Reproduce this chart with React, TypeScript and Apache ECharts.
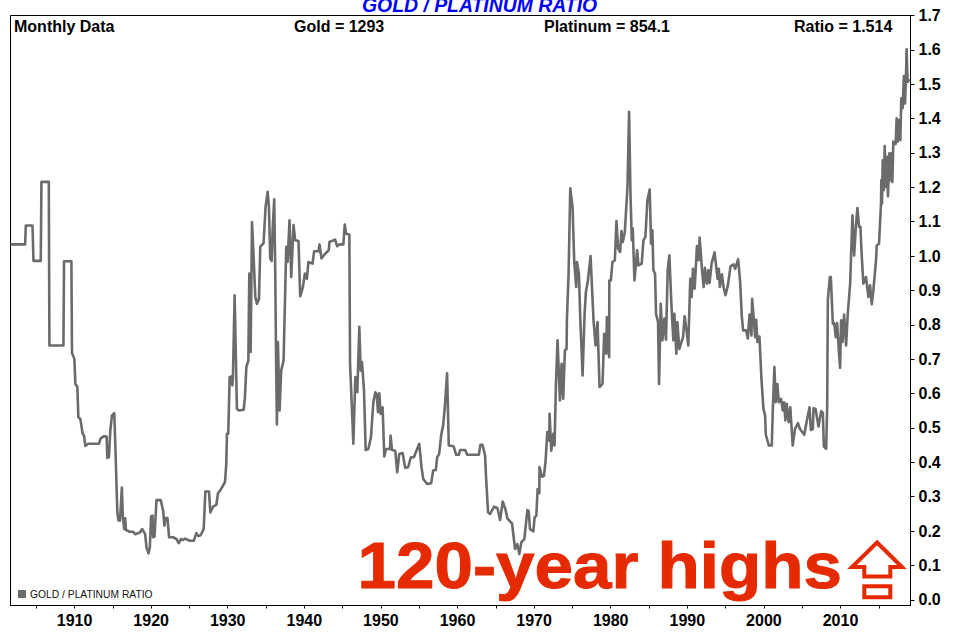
import React, { useEffect, useRef } from "react";
import * as echarts from "echarts";

const SERIES_NAME = "GOLD / PLATINUM RATIO";
const HEADER_LABELS = ["Monthly Data", "Gold = 1293", "Platinum = 854.1", "Ratio = 1.514"];
const ANNOTATION = "120-year highs";

const xTicks = [1905, 1910, 1915, 1920, 1925, 1930, 1935, 1940, 1945, 1950, 1955, 1960, 1965, 1970, 1975, 1980, 1985, 1990, 1995, 2000, 2005, 2010, 2015];
const xLabels = [1910, 1920, 1930, 1940, 1950, 1960, 1970, 1980, 1990, 2000, 2010];
const yTicks = [0, 0.1, 0.2, 0.3, 0.4, 0.5, 0.6, 0.7, 0.8, 0.9, 1.0, 1.1, 1.2, 1.3, 1.4, 1.5, 1.6, 1.7];

const yearsEarly = [1901.64,1903.55,1903.64,1904.51,1904.64,1905.59,1905.68,1906.64,1906.72,1908.55,1908.63,1909.59,1909.67,1909.98,1910.11,1910.37,1910.5,1910.76,1911.06,1911.24,1911.41,1911.8,1913.19,1913.41,1913.84,1914.19,1914.28,1914.49,1914.67,1914.88,1915.19,1915.4,1915.58,1915.71,1915.92,1916.01,1916.18,1916.31,1916.49,1916.62,1916.71,1917.23,1917.66,1917.92,1918.53,1918.83,1919.22,1919.4,1919.66,1919.83,1920.0,1920.18,1920.26,1920.44,1920.7,1921.26,1921.57,1921.74,1921.87,1922.13,1922.35,1922.87,1923.3,1923.6,1923.91,1924.17,1924.43,1925.04,1925.56,1925.91,1926.17,1926.47,1926.86,1927.08,1927.56,1927.73,1928.08,1928.51,1928.73,1929.12,1929.64,1929.81,1929.9,1930.07,1930.25,1930.46,1930.6,1930.68,1930.9,1931.2,1931.46];
const ratiosEarly = [1.034,1.034,1.089,1.089,0.986,0.986,1.216,1.216,0.74,0.74,0.985,0.985,0.718,0.701,0.628,0.619,0.531,0.526,0.483,0.478,0.448,0.454,0.454,0.47,0.476,0.475,0.413,0.415,0.492,0.536,0.543,0.395,0.259,0.232,0.23,0.259,0.327,0.24,0.206,0.237,0.203,0.198,0.198,0.191,0.196,0.206,0.191,0.152,0.135,0.152,0.243,0.245,0.182,0.184,0.29,0.29,0.259,0.216,0.238,0.238,0.182,0.182,0.177,0.165,0.177,0.174,0.178,0.172,0.172,0.194,0.186,0.188,0.206,0.315,0.315,0.254,0.271,0.276,0.31,0.322,0.342,0.395,0.483,0.483,0.648,0.65,0.624,0.648,0.886,0.556,0.551];

const yearsInterwar = [1932.08,1932.25,1932.43,1932.69,1932.82,1932.99,1933.17,1933.38,1933.6,1933.82,1934.08,1934.25,1934.68,1934.94,1935.21,1935.38,1935.55,1935.73,1935.86,1936.07,1936.2,1936.33,1936.42,1936.55,1936.77,1936.98,1937.29,1937.64,1937.81,1938.07,1938.29,1938.59,1938.81,1939.24,1939.46,1939.81,1940.07,1940.33,1940.54,1941.07,1941.28,1941.85,1941.98,1942.24,1942.71,1943.19,1943.28,1944.02,1944.28,1944.58,1945.1,1945.28,1945.45,1945.88,1945.97,1946.19,1946.4,1946.66,1946.92,1947.18,1947.36,1947.53,1947.79,1948.01,1948.36,1948.7,1949.01,1949.27,1949.44,1949.62,1949.79,1949.96,1950.22,1950.44,1950.66,1951.18,1951.26,1951.44,1951.87,1952.13,1952.39,1952.83,1953.17,1953.56,1953.91,1954.3,1955.0,1955.3,1955.52,1956.04,1956.56,1956.82,1957.17,1957.34,1957.6,1957.86,1958.12,1958.34,1958.64,1958.86];
const ratiosInterwar = [0.553,0.59,0.677,0.696,0.949,0.721,1.099,0.997,0.881,0.861,0.876,1.027,1.038,1.143,1.187,1.143,0.993,0.986,1.075,1.165,0.959,0.667,0.51,0.75,0.551,0.667,0.696,1.027,0.983,1.104,0.939,1.09,1.046,1.044,0.883,0.91,0.949,0.934,0.983,0.978,1.014,1.014,1.034,0.993,1.007,1.017,1.041,1.048,1.029,1.034,1.034,1.092,1.065,1.063,0.687,0.57,0.454,0.648,0.604,0.794,0.667,0.692,0.609,0.436,0.439,0.473,0.575,0.604,0.599,0.546,0.601,0.541,0.56,0.417,0.439,0.439,0.478,0.436,0.434,0.371,0.424,0.427,0.384,0.386,0.415,0.415,0.454,0.386,0.352,0.337,0.339,0.376,0.378,0.415,0.424,0.478,0.507,0.56,0.659,0.449];

const yearsSixties = [1959.48,1959.83,1960.17,1960.35,1961.0,1961.26,1962.08,1962.78,1963.0,1963.26,1963.6,1963.73,1963.99,1964.25,1964.78,1965.21,1965.56,1965.9,1966.25,1966.51,1967.12,1967.51,1967.81,1968.07,1968.33,1968.73,1969.12,1969.29,1969.46,1969.9,1970.07,1970.29,1970.46,1970.68,1970.7,1971.03,1971.29,1971.5,1971.72,1971.98,1972.02,1972.24,1972.5,1972.67,1972.85,1973.06,1973.37,1973.59,1973.8,1974.02,1974.24,1974.28,1974.5,1974.72];
const ratiosSixties = [0.447,0.422,0.422,0.436,0.436,0.422,0.422,0.422,0.451,0.451,0.42,0.356,0.254,0.25,0.271,0.267,0.232,0.286,0.264,0.237,0.222,0.148,0.162,0.133,0.167,0.177,0.261,0.259,0.206,0.199,0.24,0.245,0.322,0.31,0.386,0.358,0.361,0.405,0.488,0.463,0.541,0.434,0.483,0.449,0.628,0.755,0.58,0.687,0.585,0.726,0.73,0.813,0.949,1.197];

const yearsSeventies = [1975.02,1975.24,1975.5,1975.59,1975.85,1976.02,1976.33,1976.59,1976.76,1977.02,1977.37,1977.76,1978.02,1978.28,1978.54,1978.93,1979.15,1979.41,1979.5,1979.8,1979.82,1980.02,1980.23,1980.54,1980.75,1980.97,1981.23,1981.4,1981.58,1981.84,1982.01,1982.19,1982.4,1982.58,1982.75,1982.88,1983.1,1983.45,1983.62,1984.05,1984.27,1984.53,1984.79,1985.09,1985.27,1985.44,1985.57,1985.79,1985.92,1986.18,1986.31,1986.53,1986.75,1987.0,1987.22,1987.44,1987.66,1987.92,1988.18,1988.31,1988.57,1988.7,1988.96];
const ratiosSeventies = [1.143,0.983,0.91,0.983,0.949,0.823,0.653,0.832,0.895,0.929,1.0,0.813,0.74,0.808,0.619,0.628,0.774,0.716,0.823,0.706,0.929,0.929,0.983,0.988,1.102,1.022,1.012,1.073,1.041,1.07,1.133,1.201,1.42,1.182,1.046,1.08,0.929,1.017,0.973,0.978,1.046,1.056,1.163,1.194,1.036,1.075,0.959,0.949,0.832,0.808,0.628,0.861,0.755,0.818,0.757,0.959,1.002,0.861,0.755,0.832,0.716,0.808,0.73];

const yearsRecent = [1989.44,1989.65,1989.87,1990.13,1990.39,1990.57,1990.74,1990.96,1991.26,1991.48,1991.61,1991.91,1992.13,1992.3,1992.56,1992.74,1992.91,1993.17,1993.56,1993.95,1994.12,1994.25,1994.52,1994.73,1994.99,1995.3,1995.64,1996.03,1996.25,1996.64,1996.9,1997.12,1997.29,1997.68,1997.9,1998.12,1998.38,1998.46,1998.64,1998.86,1998.99,1999.16,1999.42,1999.68,1999.94,2000.16,2000.25,2000.64,2001.03,2001.16,2001.37,2001.55,2001.76,2001.94,2002.24,2002.46,2002.63,2002.81,2002.98,2003.24,2003.45,2003.76,2004.06,2004.45,2004.71,2005.27,2005.61,2005.96,2006.13,2006.39,2006.48,2006.74,2007.13,2007.48,2007.7,2007.83,2008.13,2008.26,2008.35,2008.61,2008.74,2009.0,2009.17,2009.39,2009.56,2009.78,2009.95,2010.08,2010.26,2010.47,2010.73,2010.95,2011.26,2011.56,2011.78,2012.04,2012.21,2012.43,2012.6,2012.78,2012.99,2013.34,2013.64,2013.86,2014.08,2014.29,2014.64,2014.73,2015.03,2015.29,2015.33,2015.42,2015.51,2015.64,2015.77,2015.94,2016.07,2016.2,2016.38,2016.51,2016.64,2016.77,2016.9,2017.2,2017.33,2017.46,2017.64,2017.81,2017.94,2018.11,2018.28,2018.42,2018.55,2018.63,2018.76,2019.02];
const ratiosRecent = [0.764,0.825,0.789,0.74,0.934,0.881,0.963,0.905,1.029,0.988,1.054,0.963,0.91,0.966,0.92,0.959,0.922,0.978,1.011,0.934,0.963,0.91,0.947,0.91,0.886,0.915,0.97,0.976,0.963,0.991,0.925,0.823,0.784,0.784,0.76,0.83,0.769,0.876,0.828,0.764,0.815,0.75,0.766,0.643,0.556,0.536,0.481,0.449,0.449,0.551,0.677,0.575,0.628,0.575,0.585,0.551,0.575,0.522,0.57,0.517,0.56,0.449,0.497,0.514,0.497,0.48,0.522,0.56,0.494,0.497,0.557,0.556,0.504,0.549,0.543,0.446,0.439,0.56,0.871,0.939,0.939,0.803,0.805,0.764,0.805,0.726,0.675,0.813,0.75,0.83,0.74,0.832,0.92,1.119,1.002,1.095,1.14,1.085,1.085,0.997,0.92,0.939,0.881,0.915,0.86,0.9,0.988,1.031,1.036,1.153,1.221,1.153,1.279,1.192,1.32,1.201,1.289,1.174,1.299,1.221,1.299,1.216,1.333,1.326,1.401,1.333,1.396,1.337,1.459,1.43,1.524,1.444,1.522,1.602,1.507,1.514];

const years = [...yearsEarly, ...yearsInterwar, ...yearsSixties, ...yearsSeventies, ...yearsRecent];
const ratios = [...ratiosEarly, ...ratiosInterwar, ...ratiosSixties, ...ratiosSeventies, ...ratiosRecent];
const points = years.map((y, i) => [y, ratios[i]]);

const FONT = "'Liberation Sans', Arial, sans-serif";
const LINE = "#6b6b6b";
const RED = "#e62a00";

export default function App() {
  const ref = useRef<HTMLDivElement>(null);
  useEffect(() => {
    const chart = echarts.init(ref.current!, null, { renderer: "svg", width: 961, height: 633 });
    const headerX = [14, 294, 544, 794];
    chart.setOption({
      animation: false,
      backgroundColor: "#ffffff",
      title: {
        text: SERIES_NAME,
        left: 362,
        top: -2.5,
        padding: 0,
        textStyle: { color: "#0000ff", fontFamily: FONT, fontSize: 19.4, fontWeight: "bold", fontStyle: "italic", lineHeight: 15 },
      },
      legend: {
        left: 18,
        top: 589,
        padding: 0,
        itemWidth: 8,
        itemHeight: 8,
        itemGap: 4,
        data: [{ name: SERIES_NAME, icon: "rect" }],
        textStyle: { color: "#111", fontFamily: FONT, fontSize: 10.3, padding: [1, 0, 0, -1] },
      },
      grid: { left: 10.5, right: 50.5, top: 15.5, bottom: 27.5, show: true, borderColor: "#000", borderWidth: 1, backgroundColor: "transparent" },
      xAxis: {
        type: "value",
        min: 1901.64,
        max: 2019.14,
        splitLine: { show: false },
        axisLine: { show: true, onZero: false, lineStyle: { color: "#000", width: 1 } },
        axisTick: { show: true, length: 3, customValues: xTicks, lineStyle: { color: "#000" } },
        axisLabel: {
          customValues: xLabels,
          formatter: (v: number) => String(Math.round(v)),
          color: "#000",
          fontFamily: FONT,
          fontSize: 16,
          fontWeight: "bold",
          margin: 7,
        },
      },
      yAxis: {
        type: "value",
        position: "right",
        min: -0.0165,
        max: 1.7,
        splitLine: { show: false },
        axisLine: { show: true, onZero: false, lineStyle: { color: "#000", width: 1 } },
        axisTick: { show: true, length: 4, customValues: yTicks, lineStyle: { color: "#000" } },
        axisLabel: {
          customValues: yTicks,
          formatter: (v: number) => v.toFixed(1),
          color: "#000",
          fontFamily: FONT,
          fontSize: 16,
          fontWeight: "bold",
          margin: 8,
        },
      },
      series: [
        {
          name: SERIES_NAME,
          type: "line",
          data: points,
          showSymbol: false,
          symbol: "none",
          smooth: false,
          clip: true,
          itemStyle: { color: LINE },
          lineStyle: { color: LINE, width: 2.6, join: "round" },
        },
      ],
      graphic: [
        ...HEADER_LABELS.map((t, i) => ({
          type: "text",
          x: headerX[i],
          y: 18.5,
          style: { text: t, fill: "#000", font: `bold 16px ${FONT}` },
        })),
        {
          type: "text",
          x: 357.5,
          y: 532.5,
          scaleX: 1.073,
          style: { text: ANNOTATION, fill: RED, font: `bold 64.5px ${FONT}`, stroke: RED, lineWidth: 1 },
        },
        {
          type: "polygon",
          shape: { points: [[877, 542.5], [902, 567], [890.3, 567], [890.3, 576.5], [864.3, 576.5], [864.3, 567], [852, 567]] },
          style: { fill: "#fff", stroke: RED, lineWidth: 4, lineJoin: "miter", miterLimit: 10 },
        },
        {
          type: "rect",
          shape: { x: 864.3, y: 586.3, width: 26, height: 11 },
          style: { fill: "#fff", stroke: RED, lineWidth: 4 },
        },
      ],
    });
    return () => chart.dispose();
  }, []);
  return <div ref={ref} style={{ position: "fixed", left: 0, top: 0, width: 961, height: 633 }} />;
}
